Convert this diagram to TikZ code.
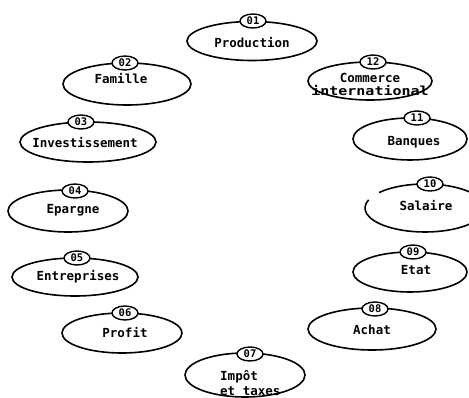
\documentclass[tikz,border=0pt]{standalone}
\usepackage{fontspec}
\setmonofont{DejaVu Sans Mono}
\usetikzlibrary{shapes.geometric}
\begin{document}
\begin{tikzpicture}[x=1pt,y=-1pt,
  bubble/.style={draw, ellipse, line width=1.6pt, inner sep=0pt},
  tag/.style={draw, fill=white, ellipse, line width=1.4pt, inner sep=0pt,
    minimum width=26pt, minimum height=14pt,
    font=\ttfamily\bfseries\fontsize{10.5}{11}\selectfont},
  lbl/.style={inner sep=0pt, font=\ttfamily\bfseries\fontsize{12.5}{14}\selectfont}]
\useasboundingbox (0,0) rectangle (469,398);

% 01 Production
\node[bubble, minimum width=130pt, minimum height=39pt] (e01) at (252,41) {};
\node[lbl] (t01) at (252,43) {Production};
\node[tag] (b01) at (253,21) {01};

% 02 Famille
\node[bubble, minimum width=128pt, minimum height=42pt] (e02) at (127,84) {};
\node[lbl] (t02) at (121,79) {Famille};
\node[tag] (b02) at (125,63) {02};

% 12 Commerce international
\node[bubble, minimum width=124pt, minimum height=38pt] (e12) at (370,81) {};
\node[lbl, align=center, font=\ttfamily\bfseries\fontsize{12.5}{13}\selectfont] (t12) at (370,84)
  {Commerce\\\scalebox{1.2}[1]{international}};
\node[tag] (b12) at (373,62) {12};

% 03 Investissement
\node[bubble, minimum width=136pt, minimum height=40pt] (e03) at (88,142) {};
\node[lbl] (t03) at (85,143) {Investissement};
\node[tag] (b03) at (81,122) {03};

% 11 Banques
\node[bubble, minimum width=114pt, minimum height=42pt] (e11) at (410,139) {};
\node[lbl] (t11) at (414,142) {Banques};
\node[tag] (b11) at (417,118) {11};

% 04 Epargne
\node[bubble, minimum width=120pt, minimum height=42pt] (e04) at (68,211) {};
\node[lbl] (t04) at (73,210) {Epargne};
\node[tag] (b04) at (75,191) {04};

% 10 Salaire (outline left open at the upper left)
\coordinate (c10) at (425,208);
\draw[line width=1.6pt] (c10) ++(220:60 and 24)
  arc[start angle=220, end angle=560, x radius=60, y radius=24];
\node[lbl] (t10) at (426,206) {Salaire};
\node[tag] (b10) at (430,184) {10};

% 05 Entreprises
\node[bubble, minimum width=126pt, minimum height=38pt] (e05) at (75,277) {};
\node[lbl] (t05) at (78,277) {Entreprises};
\node[tag] (b05) at (77,258) {05};

% 09 Etat
\node[bubble, minimum width=114pt, minimum height=40pt] (e09) at (410,272) {};
\node[lbl] (t09) at (416,270) {Etat};
\node[tag] (b09) at (413,252) {09};

% 06 Profit
\node[bubble, minimum width=120pt, minimum height=40pt] (e06) at (122,333) {};
\node[lbl] (t06) at (125,333) {Profit};
\node[tag] (b06) at (125,313) {06};

% 08 Achat
\node[bubble, minimum width=128pt, minimum height=42pt] (e08) at (372,329) {};
\node[lbl] (t08) at (372,330) {Achat};
\node[tag] (b08) at (375,309) {08};

% 07 Impot et taxes
\node[bubble, minimum width=120pt, minimum height=44pt] (e07) at (245,375) {};
\node[lbl, align=left, anchor=west, font=\ttfamily\bfseries\fontsize{12.5}{15}\selectfont]
  (t07) at (220,383) {Impôt\\et taxes};
\node[tag] (b07) at (250,354) {07};
\end{tikzpicture}
\end{document}
